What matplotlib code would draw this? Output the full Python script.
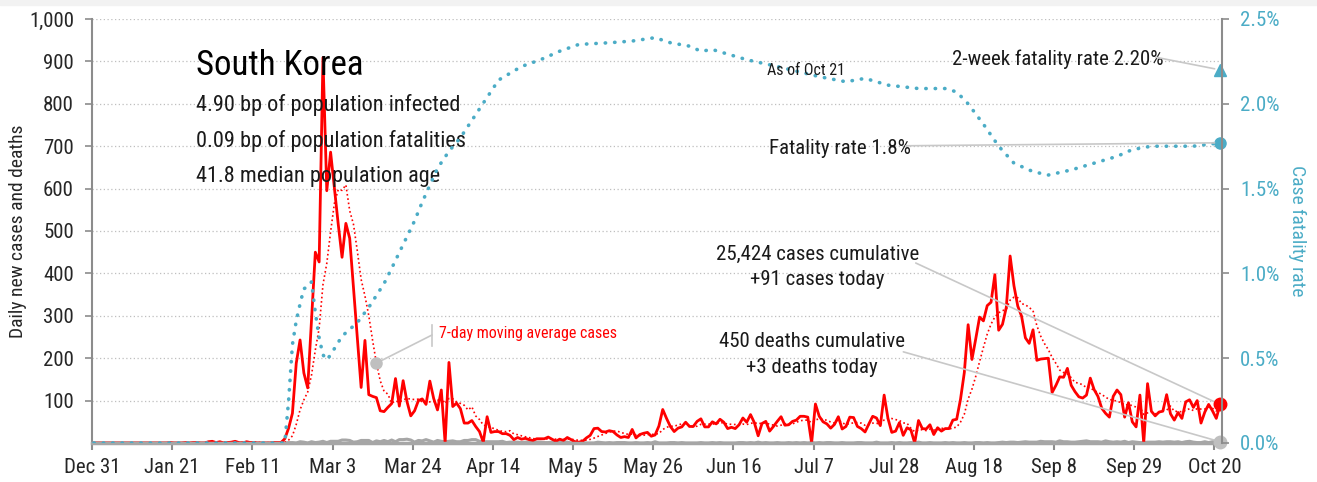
import pandas as pd
import matplotlib
matplotlib.use("Agg")
import matplotlib.pyplot as plt
from matplotlib.patches import Rectangle

plt.rcParams['font.family'] = ['Roboto Condensed', 'DejaVu Sans']

# daily new cases, one list per month (Dec 31 2019 .. Oct 21 2020)
start_date = '2019-12-31'
cases_dec = [0]
cases_jan = [0, 0, 0, 0, 0, 0, 0, 0, 0, 0, 0, 0, 0, 0, 0, 0, 0, 0, 0, 1,
             0, 0, 0, 1, 0, 1, 1, 0, 0, 3, 4]
cases_feb = [1, 3, 0, 1, 2, 4, 1, 0, 3, 1, 1, 0, 0, 0, 0, 1, 1, 1, 10, 35,
             70, 188, 243, 165, 130, 290, 450, 427, 909]
cases_mar = [595, 686, 600, 516, 438, 518, 483, 367, 248, 131, 242, 114, 110, 107, 76,
             74, 84, 93, 152, 87, 147, 98, 64, 76, 100, 104, 91, 146, 105, 78, 125]
cases_apr = [0, 190, 86, 94, 81, 47, 47, 53, 39, 27, 2, 62, 25, 27, 27,
             22, 22, 18, 8, 13, 9, 11, 8, 6, 10, 10, 10, 14, 9, 4]
cases_may = [9, 6, 13, 8, 3, 2, 4, 12, 18, 34, 35, 27, 26, 29, 27, 19,
             13, 15, 13, 32, 12, 20, 23, 25, 16, 19, 40, 79, 58, 39, 27]
cases_jun = [35, 38, 49, 39, 39, 51, 57, 38, 38, 50, 45, 56, 49, 34, 37,
             34, 43, 59, 49, 67, 48, 17, 46, 51, 28, 39, 51, 62, 42, 43]
cases_jul = [51, 54, 63, 63, 61, 0, 92, 63, 50, 45, 35, 44, 62, 33, 39, 61,
             60, 39, 34, 26, 45, 63, 59, 41, 113, 58, 25, 28, 48, 18, 36]
cases_aug = [31, 0, 53, 34, 33, 43, 20, 36, 28, 34, 34, 54, 56, 103, 166, 279,
             197, 246, 297, 288, 324, 332, 397, 266, 280, 320, 441, 371, 323, 299, 248]
cases_sep = [235, 267, 195, 198, 199, 200, 119, 136, 156, 155, 176, 136, 121, 109, 106,
             113, 153, 126, 110, 82, 70, 61, 110, 125, 114, 61, 95, 50, 38, 113]
cases_oct = [0, 140, 75, 64, 73, 75, 114, 69, 54, 72, 58, 97, 102, 84, 100,
             47, 73, 91, 76, 58, 91]

# daily deaths
deaths_dec = [0]
deaths_jan = [0] * 31
deaths_feb = [0] * 19 + [1, 1, 0, 3, 2, 0, 3, 1, 2, 4]
deaths_mar = [1, 4, 4, 4, 7, 7, 6, 2, 3, 6, 6, 6, 1, 5, 3, 6,
              3, 7, 3, 8, 8, 9, 7, 2, 6, 5, 8, 5, 2, 6, 4]
deaths_apr = [3, 4, 5, 3, 3, 6, 6, 8, 8, 4, 3, 3, 3, 3, 3,
              4, 1, 2, 2, 2, 1, 2, 2, 2, 2, 2, 1, 1, 2, 2]
deaths_may = [2, 2, 2, 0, 2, 1, 1, 0, 0, 0, 2, 1, 0, 1, 0, 1,
              1, 1, 0, 0, 1, 0, 0, 1, 0, 3, 0, 0, 0, 1, 1]
deaths_jun = [0, 1, 0, 0, 0, 0, 1, 0, 0, 1, 0, 1, 0, 0, 0,
              0, 1, 1, 0, 1, 0, 2, 0, 1, 0, 0, 1, 0, 0, 1]
deaths_jul = [0, 1, 0, 1, 0, 1, 0, 1, 0, 1, 1, 0, 0, 1, 0, 0,
              0, 1, 1, 0, 0, 0, 2, 0, 0, 0, 1, 0, 1, 0, 0]
deaths_aug = [1, 0, 2, 0, 0, 1, 0, 0, 0, 1, 0, 1, 0, 0, 1, 0,
              0, 1, 1, 0, 1, 0, 0, 1, 2, 1, 2, 2, 1, 2, 3]
deaths_sep = [2, 2, 2, 4, 3, 3, 3, 2, 5, 3, 3, 2, 2, 3, 4,
              5, 3, 3, 3, 2, 5, 3, 2, 3, 2, 4, 1, 3, 2, 1]
deaths_oct = [1, 2, 2, 2, 3, 2, 3, 3, 2, 3, 1, 3, 4, 2, 1,
              1, 3, 1, 3, 5, 3]

# case fatality rate (%), read at selected dates
cfr_dates = ['2019-12-31', '2020-02-19', '2020-02-20', '2020-02-21', '2020-02-22',
             '2020-02-23', '2020-02-24', '2020-02-25', '2020-02-26', '2020-02-27',
             '2020-02-28', '2020-02-29', '2020-03-01', '2020-03-02', '2020-03-05',
             '2020-03-09', '2020-03-12', '2020-03-16', '2020-03-18', '2020-03-21',
             '2020-03-24', '2020-03-26', '2020-03-30', '2020-04-02', '2020-04-05',
             '2020-04-10', '2020-04-15', '2020-04-21', '2020-04-26', '2020-05-01',
             '2020-05-06', '2020-05-14', '2020-05-20', '2020-05-26', '2020-05-30',
             '2020-06-04', '2020-06-07', '2020-06-10', '2020-06-19', '2020-06-27',
             '2020-07-08', '2020-07-15', '2020-07-20', '2020-07-26', '2020-08-03',
             '2020-08-10', '2020-08-13', '2020-08-16', '2020-08-20', '2020-08-24',
             '2020-08-28', '2020-09-02', '2020-09-06', '2020-09-12', '2020-09-18',
             '2020-09-24', '2020-09-28', '2020-10-03', '2020-10-14', '2020-10-21']
cfr_pct = [0.0, 0.0, 0.25, 0.58, 0.72,
           0.82, 0.91, 0.92, 0.95, 0.77,
           0.62, 0.52, 0.49, 0.52, 0.63,
           0.71, 0.80, 0.94, 1.03, 1.17,
           1.31, 1.42, 1.62, 1.72, 1.80,
           1.97, 2.14, 2.22, 2.26, 2.31,
           2.35, 2.36, 2.37, 2.39, 2.36,
           2.34, 2.31, 2.32, 2.26, 2.22,
           2.16, 2.13, 2.15, 2.11, 2.09,
           2.09, 2.07, 2.00, 1.88, 1.75,
           1.65, 1.60, 1.58, 1.61, 1.65,
           1.69, 1.73, 1.75, 1.75, 1.77]
two_week_rate = 2.20
ma_label_date = '2020-03-14'

RED = '#ff0000'
TEAL = '#4bacc6'
GREY = '#a6a6a6'
SPINE = '#8c8c8c'
LEADER = '#c8c8c8'

cases = (cases_dec + cases_jan + cases_feb + cases_mar + cases_apr + cases_may
         + cases_jun + cases_jul + cases_aug + cases_sep + cases_oct)
deaths = (deaths_dec + deaths_jan + deaths_feb + deaths_mar + deaths_apr + deaths_may
          + deaths_jun + deaths_jul + deaths_aug + deaths_sep + deaths_oct)
days = pd.date_range(start_date, periods=len(cases), freq='D')
half = pd.Timedelta(hours=12)
x = days + half
ma = pd.Series(cases).rolling(7, min_periods=1).mean()
cfr_x = pd.to_datetime(cfr_dates) + half
cfr = [v / 100 for v in cfr_pct]

fig = plt.figure(figsize=(13.17, 4.82), dpi=100)
fig.patches.append(Rectangle((0, 1 - 5 / 482), 1, 5 / 482, transform=fig.transFigure,
                             color='#f2f2f2', zorder=0))
ax = fig.add_axes([92 / 1317, 39 / 482, 1130 / 1317, 424 / 482])
ax2 = ax.twinx()

# left axis: cases and deaths
ax.plot(x, deaths, color=GREY, lw=2.2)
ax.plot(x, cases, color=RED, lw=2.0)
ax.plot(x, ma, color=RED, lw=1.2, linestyle=(0, (1, 1.6)))
ax.plot(x[-1], cases[-1], 'o', color=RED, ms=9, clip_on=False, zorder=6)
ax.plot(x[-1], deaths[-1], 'o', color='#bfbfbf', ms=9, clip_on=False, zorder=6)

# right axis: fatality rate
ax2.plot(cfr_x, cfr, color=TEAL, lw=2.6, linestyle=(0, (0.1, 2.5)), dash_capstyle='round')
ax2.plot(cfr_x[-1], cfr[-1], 'o', color=TEAL, ms=8, clip_on=False)
ax2.plot(x[-1], two_week_rate / 100, '^', color=TEAL, ms=9, clip_on=False)

ax.set_xlim(pd.Timestamp('2019-12-31'), pd.Timestamp('2020-10-22'))
ax.set_ylim(0, 1000)
ax2.set_ylim(0, 0.025)

ticks = pd.date_range(start_date, '2020-10-20', freq='21D')
ax.set_xticks(ticks)
ax.set_xticklabels([f"{t:%b} {t.day}" for t in ticks])
yt = list(range(100, 1001, 100))
ax.set_yticks(yt)
ax.set_yticklabels([f"{v:,}" for v in yt])
rt = [0, 0.005, 0.01, 0.015, 0.02, 0.025]
ax2.set_yticks(rt)
ax2.set_yticklabels([f"{v * 100:.1f}%" for v in rt])

ax.yaxis.grid(True, linestyle=(0, (1, 2)), color='#bfbfbf', lw=0.9)
ax.set_axisbelow(True)

for s in ['top', 'right']:
    ax.spines[s].set_visible(False)
for s in ['top', 'left', 'bottom']:
    ax2.spines[s].set_visible(False)
ax.spines['left'].set_color(SPINE)
ax.spines['left'].set_linewidth(1.5)
ax.spines['bottom'].set_color(GREY)
ax.spines['bottom'].set_linewidth(2.5)
ax2.spines['right'].set_color(SPINE)
ax2.spines['right'].set_linewidth(1.5)

ax.tick_params(axis='y', direction='out', length=5, width=1.2, color=SPINE,
               labelsize=15, pad=8, labelcolor='#262626')
ax.tick_params(axis='x', direction='out', length=5, width=1.5, color=SPINE,
               labelsize=15, pad=6, labelcolor='#262626')
ax2.tick_params(axis='y', direction='out', length=5, width=1.2, color=SPINE,
                labelsize=15, pad=8, labelcolor=TEAL)

ax.set_ylabel('Daily new cases and deaths', fontsize=14, color='#262626', va='center')
ax.yaxis.set_label_coords(-0.0655, 0.5)
ax2.set_ylabel('Case fatality rate', fontsize=14, color=TEAL, rotation=270, va='center')
ax2.yaxis.set_label_coords(1.0664, 0.5)

# country block
tc = '#1a1a1a'
ax.text(0.092, 0.868, 'South Korea', transform=ax.transAxes, fontsize=25, color='#000000',
        va='baseline')
ax.text(0.092, 0.784, '4.90 bp of population infected', transform=ax.transAxes,
        fontsize=16, color=tc, va='baseline')
ax.text(0.092, 0.699, '0.09 bp of population fatalities', transform=ax.transAxes,
        fontsize=16, color=tc, va='baseline')
ax.text(0.092, 0.616, '41.8 median population age', transform=ax.transAxes,
        fontsize=16, color=tc, va='baseline')

# moving average label
mi = days.get_loc(pd.Timestamp(ma_label_date))
ax.plot(x[mi], ma[mi], 'o', color='#bfbfbf', ms=8, zorder=5)
ax.annotate('', xy=(x[mi], ma[mi]), xytext=(0.3009, 0.2547), textcoords='axes fraction',
            arrowprops=dict(arrowstyle='-', color=LEADER, lw=1.2, shrinkA=0, shrinkB=0))
ax.plot([0.3009, 0.3009], [0.229, 0.278], transform=ax.transAxes, color=LEADER, lw=1.2)
ax.text(0.307, 0.247, '7-day moving average cases', transform=ax.transAxes,
        fontsize=11.5, color=RED, va='baseline')

# cumulative labels
ax.text(0.642, 0.432, '25,424 cases cumulative', transform=ax.transAxes, fontsize=15,
        color=tc, ha='center', va='baseline')
ax.text(0.642, 0.373, '+91 cases today', transform=ax.transAxes, fontsize=15,
        color=tc, ha='center', va='baseline')
ax.annotate('', xy=(x[-1], cases[-1]), xytext=(0.729, 0.4245), textcoords='axes fraction',
            arrowprops=dict(arrowstyle='-', color=LEADER, lw=1.2, shrinkA=0, shrinkB=4))
ax.text(0.637, 0.227, '450 deaths cumulative', transform=ax.transAxes, fontsize=15,
        color=tc, ha='center', va='baseline')
ax.text(0.637, 0.164, '+3 deaths today', transform=ax.transAxes, fontsize=15,
        color=tc, ha='center', va='baseline')
ax.annotate('', xy=(x[-1], deaths[-1]), xytext=(0.718, 0.215), textcoords='axes fraction',
            arrowprops=dict(arrowstyle='-', color=LEADER, lw=1.2, shrinkA=0, shrinkB=4))

# fatality labels
ax2.text(0.597, 0.868, 'As of Oct 21', transform=ax2.transAxes, fontsize=11.5,
         color=tc, va='baseline')
ax2.text(0.761, 0.892, '2-week fatality rate 2.20%', transform=ax2.transAxes, fontsize=15,
         color=tc, va='baseline')
ax2.annotate('', xy=(x[-1], two_week_rate / 100), xytext=(0.9416, 0.9097),
             textcoords='axes fraction',
             arrowprops=dict(arrowstyle='-', color=LEADER, lw=1.2, shrinkA=0, shrinkB=4))
ax2.text(0.599, 0.682, 'Fatality rate 1.8%', transform=ax2.transAxes, fontsize=15,
         color=tc, va='baseline')
ax2.annotate('', xy=(cfr_x[-1], cfr[-1]), xytext=(0.7203, 0.701), textcoords='axes fraction',
             arrowprops=dict(arrowstyle='-', color=LEADER, lw=1.2, shrinkA=0, shrinkB=4))

fig.savefig('out.png', dpi=100)
